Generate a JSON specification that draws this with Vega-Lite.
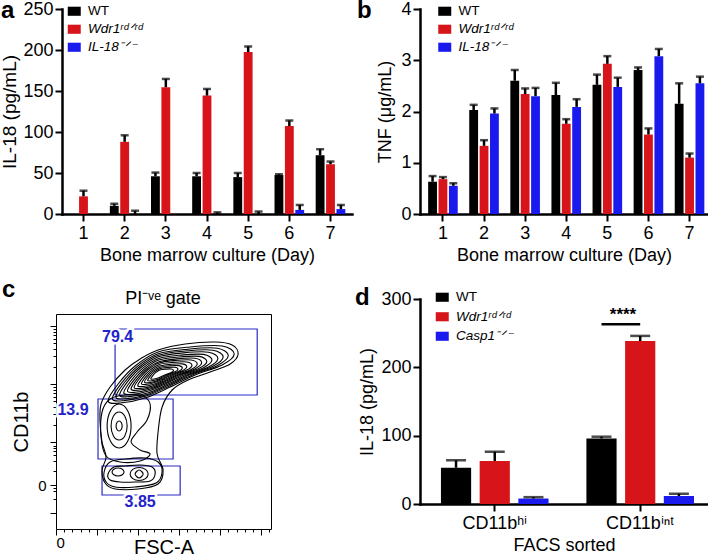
{
  "$schema": "https://vega.github.io/schema/vega-lite/v6.json",
  "background": "white",
  "padding": {"left": 0, "top": -1, "right": 0, "bottom": 0},
  "config": {
    "font": "Liberation Sans",
    "view": {"stroke": null},
    "axis": {"domainColor": "black", "domainWidth": 2.5, "domainCap": "square", "tickColor": "black", "tickWidth": 2, "tickSize": 7, "labelColor": "black", "labelFontSize": 18, "labelPadding": 2, "titleColor": "black", "titleFontSize": 18, "titleFontWeight": "normal", "grid": false},
    "legend": {"orient": "none", "symbolType": "M-1,-0.7H1V0.7H-1Z", "symbolSize": 169, "labelFontSize": 13.5, "labelColor": "black", "padding": 0, "rowPadding": 3, "labelOffset": 7, "symbolStrokeWidth": 0, "symbolOpacity": 1},
    "title": {"color": "black"}
  },
  "resolve": {"scale": {"color": "independent", "xOffset": "independent"}, "legend": {"color": "independent"}},
  "bounds": "flush",
  "spacing": 364,
  "hconcat": [
    {
      "bounds": "flush",
      "spacing": 305,
      "resolve": {"scale": {"color": "independent", "xOffset": "independent"}, "legend": {"color": "independent"}},
      "vconcat": [
        {
          "bounds": "flush",
          "spacing": 5,
          "resolve": {"scale": {"xOffset": "independent"}},
          "hconcat": [
            {"width": 1, "height": 1, "data": {"values": [{"k": 0}]}, "mark": {"type": "point", "opacity": 0}, "encoding": {}},
            {
              "width": 290, "height": 205,
              "title": {"text": "a", "anchor": "start", "frame": "group", "fontSize": 24, "fontWeight": "bold", "baseline": "alphabetic", "offset": 0, "dx": -61, "dy": 42},
              "data": {"values": [
                {"day": 1, "g": "Wdr1ʳᵈᐟʳᵈ", "v": 21.5, "hi": 28.4},
                {"day": 2, "g": "WT", "v": 10, "hi": 12.5},
                {"day": 2, "g": "Wdr1ʳᵈᐟʳᵈ", "v": 88, "hi": 96},
                {"day": 2, "g": "IL-18⁻ᐟ⁻", "v": 0, "hi": 4},
                {"day": 3, "g": "WT", "v": 46, "hi": 50.5},
                {"day": 3, "g": "Wdr1ʳᵈᐟʳᵈ", "v": 154.6, "hi": 164.7},
                {"day": 4, "g": "WT", "v": 46, "hi": 50},
                {"day": 4, "g": "Wdr1ʳᵈᐟʳᵈ", "v": 144.4, "hi": 152.5},
                {"day": 4, "g": "IL-18⁻ᐟ⁻", "v": 0, "hi": 2},
                {"day": 5, "g": "WT", "v": 45, "hi": 50},
                {"day": 5, "g": "Wdr1ʳᵈᐟʳᵈ", "v": 197.5, "hi": 204.3},
                {"day": 5, "g": "IL-18⁻ᐟ⁻", "v": 0, "hi": 3},
                {"day": 6, "g": "WT", "v": 47.5, "hi": 48.5},
                {"day": 6, "g": "Wdr1ʳᵈᐟʳᵈ", "v": 107.3, "hi": 114},
                {"day": 6, "g": "IL-18⁻ᐟ⁻", "v": 5, "hi": 11},
                {"day": 7, "g": "WT", "v": 71.6, "hi": 79},
                {"day": 7, "g": "Wdr1ʳᵈᐟʳᵈ", "v": 60.7, "hi": 64},
                {"day": 7, "g": "IL-18⁻ᐟ⁻", "v": 6, "hi": 11}
              ]},
              "encoding": {
                "x": {"field": "day", "type": "ordinal", "scale": {"type": "band", "paddingInner": 0.28, "paddingOuter": 0.162}, "axis": {"title": "Bone marrow culture (Day)", "labelAngle": 0, "labelPadding": 3, "titlePadding": 4}},
                "xOffset": {"field": "g", "type": "nominal", "sort": ["WT", "Wdr1ʳᵈᐟʳᵈ", "IL-18⁻ᐟ⁻"], "scale": {"paddingInner": 0.15}}
              },
              "layer": [
                {"mark": {"type": "bar"}, "encoding": {
                  "y": {"field": "v", "type": "quantitative", "title": "IL-18 (pg/mL)", "scale": {"domain": [0, 250], "nice": false}, "axis": {"values": [0, 50, 100, 150, 200, 250], "titlePadding": 3, "titleFontSize": 19}},
                  "color": {"field": "g", "type": "nominal", "scale": {"domain": ["WT", "Wdr1ʳᵈᐟʳᵈ", "IL-18⁻ᐟ⁻"], "range": ["#000000", "#d7141a", "#1a1aee"]}, "legend": {"title": null, "legendX": 11.5, "legendY": -4.5, "encode": {"labels": {"update": {"fontStyle": {"signal": "datum.label == 'WT' ? 'normal' : 'italic'"}}}}}}
                }},
                {"mark": {"type": "rule", "color": "black", "strokeWidth": 2.5}, "encoding": {"y": {"field": "v", "type": "quantitative", "title": "IL-18 (pg/mL)"}, "y2": {"field": "hi"}}},
                {"mark": {"type": "tick", "color": "black", "thickness": 2.5, "size": 8}, "encoding": {"y": {"field": "hi", "type": "quantitative", "title": "IL-18 (pg/mL)"}}}
              ]
            }
          ]
        },
        {
          "width": 215, "height": 215,
          "view": {"stroke": "black", "strokeWidth": 1},
          "title": {"text": "c", "anchor": "start", "frame": "group", "fontSize": 24, "fontWeight": "bold", "baseline": "alphabetic", "offset": 0, "dx": -54, "dy": 31},
          "encoding": {
            "x": {"field": "x", "type": "quantitative", "title": "FSC-A", "scale": {"domain": [0, 262], "nice": false, "zero": false},
              "axis": {"values": [0, 10, 20, 30, 40, 50, 60, 70, 80, 90, 100, 110, 120, 130, 140, 150, 160, 170, 180, 190, 200, 210, 220, 230, 240, 250, 260], "labelExpr": "datum.value == 0 ? '0' : ''", "domain": false, "tickWidth": 1, "tickSize": {"condition": {"test": "datum.value % 50 == 0", "value": 6}, "value": 3}, "labelFontSize": 15, "labelPadding": 0, "titleFontSize": 20, "titlePadding": -13}},
            "y": {"field": "y", "type": "quantitative", "title": "CD11b", "scale": {"domain": [0, 215], "nice": false, "zero": false},
              "axis": {"values": [16, 30, 38, 41, 44, 58, 68, 74, 78, 81, 83, 87, 104.5, 114.7, 121.9, 127.5, 132.1, 136, 139.4, 142.3, 145, 162.5, 172.7, 179.9, 185.5, 190.1, 194, 197.4, 200.3, 203], "labelExpr": "datum.value == 44 ? '0' : ''", "domain": false, "tickWidth": 1, "tickSize": {"condition": {"test": "indexof([16, 44, 87, 145, 203], datum.value) >= 0", "value": 6}, "value": 3}, "labelFontSize": 15, "labelPadding": 4, "titleFontSize": 20, "titlePadding": 6}}
          },
          "layer": [
            {
              "data": {"values": [
                {"gate": "79.4", "x": 72, "x2": 245.2, "y": 134, "y2": 200},
                {"gate": "13.9", "x": 51.2, "x2": 142.7, "y": 70, "y2": 130},
                {"gate": "3.85", "x": 56.1, "x2": 151.3, "y": 34, "y2": 63}
              ]},
              "mark": {"type": "rect", "fillOpacity": 0, "stroke": "#2b2bc6", "strokeWidth": 1.2},
              "encoding": {"x2": {"field": "x2"}, "y2": {"field": "y2"}}
            },
            {
              "data": {"values": [
                {"c":"m100","o":1,"x":63.5,"y":128},{"c":"m100","o":2,"x":75.7,"y":145},{"c":"m100","o":3,"x":96.4,"y":163},{"c":"m100","o":4,"x":124.5,"y":177},{"c":"m100","o":5,"x":163.5,"y":182},{"c":"m100","o":6,"x":202.5,"y":183},{"c":"m100","o":7,"x":217.2,"y":175},{"c":"m100","o":8,"x":202.5,"y":164},{"c":"m100","o":9,"x":169.6,"y":154},{"c":"m100","o":10,"x":139.1,"y":142},{"c":"m100","o":11,"x":108.6,"y":131},{"c":"m100","o":12,"x":78.1,"y":126},
                {"c":"m92","o":1,"x":68.6,"y":130.2},{"c":"m92","o":2,"x":79.8,"y":145.8},{"c":"m92","o":3,"x":98.8,"y":162.4},{"c":"m92","o":4,"x":124.7,"y":175.2},{"c":"m92","o":5,"x":160.6,"y":179.8},{"c":"m92","o":6,"x":196.5,"y":180.8},{"c":"m92","o":7,"x":210.0,"y":173.4},{"c":"m92","o":8,"x":196.5,"y":163.3},{"c":"m92","o":9,"x":166.2,"y":154.1},{"c":"m92","o":10,"x":138.1,"y":143},{"c":"m92","o":11,"x":110.1,"y":132.9},{"c":"m92","o":12,"x":82.0,"y":128.3},
                {"c":"m85","o":1,"x":73.0,"y":132},{"c":"m85","o":2,"x":83.4,"y":146.5},{"c":"m85","o":3,"x":101.0,"y":161.8},{"c":"m85","o":4,"x":124.9,"y":173.7},{"c":"m85","o":5,"x":158.0,"y":178},{"c":"m85","o":6,"x":191.2,"y":178.8},{"c":"m85","o":7,"x":203.7,"y":172},{"c":"m85","o":8,"x":191.2,"y":162.7},{"c":"m85","o":9,"x":163.2,"y":154.2},{"c":"m85","o":10,"x":137.3,"y":144},{"c":"m85","o":11,"x":111.3,"y":134.6},{"c":"m85","o":12,"x":85.4,"y":130.3},
                {"c":"m78","o":1,"x":77.4,"y":133.9},{"c":"m78","o":2,"x":87.0,"y":147.2},{"c":"m78","o":3,"x":103.1,"y":161.2},{"c":"m78","o":4,"x":125.0,"y":172.2},{"c":"m78","o":5,"x":155.4,"y":176.1},{"c":"m78","o":6,"x":185.9,"y":176.8},{"c":"m78","o":7,"x":197.3,"y":170.6},{"c":"m78","o":8,"x":185.9,"y":162},{"c":"m78","o":9,"x":160.2,"y":154.2},{"c":"m78","o":10,"x":136.4,"y":144.9},{"c":"m78","o":11,"x":112.6,"y":136.3},{"c":"m78","o":12,"x":88.8,"y":132.4},
                {"c":"m70","o":1,"x":82.5,"y":136.1},{"c":"m70","o":2,"x":91.1,"y":148},{"c":"m70","o":3,"x":105.5,"y":160.6},{"c":"m70","o":4,"x":125.2,"y":170.4},{"c":"m70","o":5,"x":152.5,"y":173.9},{"c":"m70","o":6,"x":179.8,"y":174.6},{"c":"m70","o":7,"x":190.1,"y":169},{"c":"m70","o":8,"x":179.8,"y":161.3},{"c":"m70","o":9,"x":156.8,"y":154.3},{"c":"m70","o":10,"x":135.4,"y":145.9},{"c":"m70","o":11,"x":114.1,"y":138.2},{"c":"m70","o":12,"x":92.7,"y":134.7},
                {"c":"m63","o":1,"x":87.0,"y":138},{"c":"m63","o":2,"x":94.6,"y":148.7},{"c":"m63","o":3,"x":107.7,"y":160},{"c":"m63","o":4,"x":125.4,"y":168.9},{"c":"m63","o":5,"x":150.0,"y":172},{"c":"m63","o":6,"x":174.5,"y":172.6},{"c":"m63","o":7,"x":183.8,"y":167.6},{"c":"m63","o":8,"x":174.5,"y":160.7},{"c":"m63","o":9,"x":153.8,"y":154.4},{"c":"m63","o":10,"x":134.6,"y":146.8},{"c":"m63","o":11,"x":115.4,"y":139.9},{"c":"m63","o":12,"x":96.2,"y":136.7},
                {"c":"m56","o":1,"x":91.4,"y":139.9},{"c":"m56","o":2,"x":98.2,"y":149.4},{"c":"m56","o":3,"x":109.8,"y":159.5},{"c":"m56","o":4,"x":125.6,"y":167.3},{"c":"m56","o":5,"x":147.4,"y":170.1},{"c":"m56","o":6,"x":169.2,"y":170.7},{"c":"m56","o":7,"x":177.5,"y":166.2},{"c":"m56","o":8,"x":169.2,"y":160},{"c":"m56","o":9,"x":150.8,"y":154.4},{"c":"m56","o":10,"x":133.7,"y":147.7},{"c":"m56","o":11,"x":116.7,"y":141.6},{"c":"m56","o":12,"x":99.6,"y":138.8},
                {"c":"m50","o":1,"x":95.2,"y":141.5},{"c":"m50","o":2,"x":101.3,"y":150},{"c":"m50","o":3,"x":111.6,"y":159},{"c":"m50","o":4,"x":125.7,"y":166},{"c":"m50","o":5,"x":145.2,"y":168.5},{"c":"m50","o":6,"x":164.7,"y":169},{"c":"m50","o":7,"x":172.1,"y":165},{"c":"m50","o":8,"x":164.7,"y":159.5},{"c":"m50","o":9,"x":148.3,"y":154.5},{"c":"m50","o":10,"x":133.0,"y":148.5},{"c":"m50","o":11,"x":117.7,"y":143},{"c":"m50","o":12,"x":102.5,"y":140.5},
                {"c":"m43","o":1,"x":99.6,"y":143.4},{"c":"m43","o":2,"x":104.9,"y":150.7},{"c":"m43","o":3,"x":113.8,"y":158.4},{"c":"m43","o":4,"x":125.9,"y":164.5},{"c":"m43","o":5,"x":142.6,"y":166.6},{"c":"m43","o":6,"x":159.4,"y":167},{"c":"m43","o":7,"x":165.7,"y":163.6},{"c":"m43","o":8,"x":159.4,"y":158.9},{"c":"m43","o":9,"x":145.3,"y":154.6},{"c":"m43","o":10,"x":132.1,"y":149.4},{"c":"m43","o":11,"x":119.0,"y":144.7},{"c":"m43","o":12,"x":105.9,"y":142.5},
                {"c":"m36","o":1,"x":104.1,"y":145.3},{"c":"m36","o":2,"x":108.5,"y":151.4},{"c":"m36","o":3,"x":115.9,"y":157.9},{"c":"m36","o":4,"x":126.0,"y":162.9},{"c":"m36","o":5,"x":140.1,"y":164.7},{"c":"m36","o":6,"x":154.1,"y":165.1},{"c":"m36","o":7,"x":159.4,"y":162.2},{"c":"m36","o":8,"x":154.1,"y":158.2},{"c":"m36","o":9,"x":142.3,"y":154.6},{"c":"m36","o":10,"x":131.3,"y":150.3},{"c":"m36","o":11,"x":120.3,"y":146.4},{"c":"m36","o":12,"x":109.3,"y":144.6},
                {"c":"m30","o":1,"x":107.9,"y":146.9},{"c":"m30","o":2,"x":111.5,"y":152},{"c":"m30","o":3,"x":117.7,"y":157.4},{"c":"m30","o":4,"x":126.2,"y":161.6},{"c":"m30","o":5,"x":137.9,"y":163.1},{"c":"m30","o":6,"x":149.6,"y":163.4},{"c":"m30","o":7,"x":154.0,"y":161},{"c":"m30","o":8,"x":149.6,"y":157.7},{"c":"m30","o":9,"x":139.7,"y":154.7},{"c":"m30","o":10,"x":130.6,"y":151.1},{"c":"m30","o":11,"x":121.4,"y":147.8},{"c":"m30","o":12,"x":112.3,"y":146.3},
                {"c":"m24","o":1,"x":111.7,"y":148.5},{"c":"m24","o":2,"x":114.6,"y":152.6},{"c":"m24","o":3,"x":119.6,"y":156.9},{"c":"m24","o":4,"x":126.3,"y":160.3},{"c":"m24","o":5,"x":135.7,"y":161.5},{"c":"m24","o":6,"x":145.0,"y":161.7},{"c":"m24","o":7,"x":148.6,"y":159.8},{"c":"m24","o":8,"x":145.0,"y":157.2},{"c":"m24","o":9,"x":137.1,"y":154.8},{"c":"m24","o":10,"x":129.8,"y":151.9},{"c":"m24","o":11,"x":122.5,"y":149.2},{"c":"m24","o":12,"x":115.2,"y":148},
                {"c":"m18","o":1,"x":115.5,"y":150.1},{"c":"m18","o":2,"x":117.7,"y":153.2},{"c":"m18","o":3,"x":121.4,"y":156.4},{"c":"m18","o":4,"x":126.5,"y":159},{"c":"m18","o":5,"x":133.5,"y":159.9},{"c":"m18","o":6,"x":140.5,"y":160},{"c":"m18","o":7,"x":143.2,"y":158.6},{"c":"m18","o":8,"x":140.5,"y":156.6},{"c":"m18","o":9,"x":134.6,"y":154.8},{"c":"m18","o":10,"x":129.1,"y":152.7},{"c":"m18","o":11,"x":123.6,"y":150.7},{"c":"m18","o":12,"x":118.1,"y":149.8},
                {"c":"o1","o":1,"x":54.9,"y":125},{"c":"o1","o":2,"x":65.9,"y":142},{"c":"o1","o":3,"x":84.2,"y":159},{"c":"o1","o":4,"x":102.5,"y":170},{"c":"o1","o":5,"x":124.4,"y":179},{"c":"o1","o":6,"x":157.4,"y":185},{"c":"o1","o":7,"x":194.0,"y":187},{"c":"o1","o":8,"x":214.7,"y":184},{"c":"o1","o":9,"x":222.0,"y":175},{"c":"o1","o":10,"x":212.3,"y":165},{"c":"o1","o":11,"x":187.9,"y":157},{"c":"o1","o":12,"x":161.0,"y":149},{"c":"o1","o":13,"x":141.5,"y":139},{"c":"o1","o":14,"x":129.3,"y":122},{"c":"o1","o":15,"x":124.4,"y":97},{"c":"o1","o":16,"x":123.2,"y":75},{"c":"o1","o":17,"x":130.5,"y":59},{"c":"o1","o":18,"x":124.4,"y":45},{"c":"o1","o":19,"x":100.0,"y":40},{"c":"o1","o":20,"x":72.0,"y":40},{"c":"o1","o":21,"x":59.8,"y":46},{"c":"o1","o":22,"x":56.1,"y":59},{"c":"o1","o":23,"x":61.0,"y":72},{"c":"o1","o":24,"x":56.1,"y":87},{"c":"o1","o":25,"x":53.7,"y":107},
                {"c":"l1","o":1,"x":80.6,"y":103},{"c":"l1","o":2,"x":79.5,"y":106.5},{"c":"l1","o":3,"x":76.9,"y":108},{"c":"l1","o":4,"x":74.3,"y":106.5},{"c":"l1","o":5,"x":73.2,"y":103},{"c":"l1","o":6,"x":74.3,"y":99.5},{"c":"l1","o":7,"x":76.9,"y":98},{"c":"l1","o":8,"x":79.5,"y":99.5},
                {"c":"l2","o":1,"x":86.7,"y":103},{"c":"l2","o":2,"x":83.8,"y":112.9},{"c":"l2","o":3,"x":76.9,"y":117},{"c":"l2","o":4,"x":70.0,"y":112.9},{"c":"l2","o":5,"x":67.1,"y":103},{"c":"l2","o":6,"x":70.0,"y":93.1},{"c":"l2","o":7,"x":76.9,"y":89},{"c":"l2","o":8,"x":83.8,"y":93.1},
                {"c":"l3","o":1,"x":91.5,"y":103},{"c":"l3","o":2,"x":87.2,"y":118.6},{"c":"l3","o":3,"x":76.9,"y":125},{"c":"l3","o":4,"x":66.6,"y":118.6},{"c":"l3","o":5,"x":62.3,"y":103},{"c":"l3","o":6,"x":66.6,"y":87.4},{"c":"l3","o":7,"x":76.9,"y":81},{"c":"l3","o":8,"x":87.2,"y":87.4},
                {"c":"l5","o":1,"x":56.1,"y":117},{"c":"l5","o":2,"x":65.9,"y":130},{"c":"l5","o":3,"x":84.2,"y":134},{"c":"l5","o":4,"x":104.9,"y":133},{"c":"l5","o":5,"x":114.7,"y":125},{"c":"l5","o":6,"x":111.0,"y":109},{"c":"l5","o":7,"x":98.8,"y":97},{"c":"l5","o":8,"x":91.5,"y":87},{"c":"l5","o":9,"x":102.5,"y":79},{"c":"l5","o":10,"x":114.7,"y":75},{"c":"l5","o":11,"x":102.5,"y":68},{"c":"l5","o":12,"x":78.1,"y":67},{"c":"l5","o":13,"x":61.0,"y":73},{"c":"l5","o":14,"x":54.9,"y":92},
                {"c":"b1","o":1,"x":106.2,"y":55},{"c":"b1","o":2,"x":101.3,"y":59},{"c":"b1","o":3,"x":96.4,"y":55},{"c":"b1","o":4,"x":101.3,"y":51},
                {"c":"b2","o":1,"x":112.3,"y":55},{"c":"b2","o":2,"x":109.1,"y":59.6},{"c":"b2","o":3,"x":101.3,"y":61.5},{"c":"b2","o":4,"x":93.5,"y":59.6},{"c":"b2","o":5,"x":90.3,"y":55},{"c":"b2","o":6,"x":93.5,"y":50.4},{"c":"b2","o":7,"x":101.3,"y":48.5},{"c":"b2","o":8,"x":109.1,"y":50.4},
                {"c":"b3","o":1,"x":63.4,"y":55},{"c":"b3","o":2,"x":70.8,"y":62},{"c":"b3","o":3,"x":84.2,"y":63},{"c":"b3","o":4,"x":102.5,"y":64},{"c":"b3","o":5,"x":117.1,"y":62},{"c":"b3","o":6,"x":120.8,"y":55},{"c":"b3","o":7,"x":114.7,"y":48},{"c":"b3","o":8,"x":96.4,"y":47},{"c":"b3","o":9,"x":78.1,"y":47},{"c":"b3","o":10,"x":65.9,"y":49},
                {"c":"b4","o":1,"x":82.9,"y":57},{"c":"b4","o":2,"x":80.8,"y":59.8},{"c":"b4","o":3,"x":75.6,"y":61},{"c":"b4","o":4,"x":70.4,"y":59.8},{"c":"b4","o":5,"x":68.3,"y":57},{"c":"b4","o":6,"x":70.4,"y":54.2},{"c":"b4","o":7,"x":75.6,"y":53},{"c":"b4","o":8,"x":80.8,"y":54.2},
                {"c":"b5","o":1,"x":58.6,"y":57},{"c":"b5","o":2,"x":65.9,"y":67},{"c":"b5","o":3,"x":84.2,"y":70},{"c":"b5","o":4,"x":108.6,"y":71},{"c":"b5","o":5,"x":124.4,"y":67},{"c":"b5","o":6,"x":129.3,"y":57},{"c":"b5","o":7,"x":122.0,"y":46},{"c":"b5","o":8,"x":96.4,"y":42},{"c":"b5","o":9,"x":72.0,"y":42},{"c":"b5","o":10,"x":61.0,"y":47}
              ]},
              "mark": {"type": "line", "interpolate": "cardinal-closed", "color": "black", "strokeWidth": 1.1},
              "encoding": {"detail": {"field": "c", "type": "nominal"}, "order": {"field": "o", "type": "quantitative"}}
            },
            {
              "data": {"values": [
                {"t": "79.4", "x": 75, "y": 192},
                {"t": "13.9", "x": 20.7, "y": 119},
                {"t": "3.85", "x": 102.5, "y": 27}
              ]},
              "mark": {"type": "text", "fontSize": 16, "fontWeight": "bold", "fill": "white", "stroke": "white", "strokeWidth": 5, "baseline": "middle", "align": "center"},
              "encoding": {"text": {"field": "t"}}
            },
            {
              "data": {"values": [
                {"t": "79.4", "x": 75, "y": 192},
                {"t": "13.9", "x": 20.7, "y": 119},
                {"t": "3.85", "x": 102.5, "y": 27}
              ]},
              "mark": {"type": "text", "fontSize": 16, "fontWeight": "bold", "color": "#2323c8", "baseline": "middle", "align": "center"},
              "encoding": {"text": {"field": "t"}}
            },
            {
              "data": {"values": [{"t": "PI⁻ᵛᵉ gate", "x": 130.5, "y": 230}]},
              "mark": {"type": "text", "fontSize": 18, "color": "black", "baseline": "middle", "align": "center"},
              "encoding": {"text": {"field": "t"}}
            }
          ]
        }
      ]
    },
    {
      "bounds": "flush",
      "spacing": 85,
      "resolve": {"scale": {"color": "independent", "xOffset": "independent"}, "legend": {"color": "independent"}},
      "vconcat": [
        {
          "width": 288, "height": 205,
          "title": {"text": "b", "anchor": "start", "frame": "group", "fontSize": 24, "fontWeight": "bold", "baseline": "alphabetic", "offset": 0, "dx": -63, "dy": 42},
          "data": {"values": [
            {"day": 1, "g": "WT", "v": 0.63, "hi": 0.74},
            {"day": 1, "g": "Wdr1ʳᵈᐟʳᵈ", "v": 0.68, "hi": 0.72},
            {"day": 1, "g": "IL-18⁻ᐟ⁻", "v": 0.55, "hi": 0.6},
            {"day": 2, "g": "WT", "v": 2.03, "hi": 2.13},
            {"day": 2, "g": "Wdr1ʳᵈᐟʳᵈ", "v": 1.33, "hi": 1.44},
            {"day": 2, "g": "IL-18⁻ᐟ⁻", "v": 1.96, "hi": 2.06},
            {"day": 3, "g": "WT", "v": 2.6, "hi": 2.81},
            {"day": 3, "g": "Wdr1ʳᵈᐟʳᵈ", "v": 2.34, "hi": 2.45},
            {"day": 3, "g": "IL-18⁻ᐟ⁻", "v": 2.3, "hi": 2.46},
            {"day": 4, "g": "WT", "v": 2.32, "hi": 2.56},
            {"day": 4, "g": "Wdr1ʳᵈᐟʳᵈ", "v": 1.76, "hi": 1.85},
            {"day": 4, "g": "IL-18⁻ᐟ⁻", "v": 2.09, "hi": 2.24},
            {"day": 5, "g": "WT", "v": 2.52, "hi": 2.72},
            {"day": 5, "g": "Wdr1ʳᵈᐟʳᵈ", "v": 2.93, "hi": 3.08},
            {"day": 5, "g": "IL-18⁻ᐟ⁻", "v": 2.48, "hi": 2.66},
            {"day": 6, "g": "WT", "v": 2.81, "hi": 2.86},
            {"day": 6, "g": "Wdr1ʳᵈᐟʳᵈ", "v": 1.55, "hi": 1.67},
            {"day": 6, "g": "IL-18⁻ᐟ⁻", "v": 3.08, "hi": 3.22},
            {"day": 7, "g": "WT", "v": 2.15, "hi": 2.55},
            {"day": 7, "g": "Wdr1ʳᵈᐟʳᵈ", "v": 1.1, "hi": 1.18},
            {"day": 7, "g": "IL-18⁻ᐟ⁻", "v": 2.55, "hi": 2.68}
          ]},
          "encoding": {
            "x": {"field": "day", "type": "ordinal", "scale": {"type": "band", "paddingInner": 0.28, "paddingOuter": 0.1436, "align": 0.69}, "axis": {"title": "Bone marrow culture (Day)", "labelAngle": 0, "labelPadding": 3, "titlePadding": 4}},
            "xOffset": {"field": "g", "type": "nominal", "sort": ["WT", "Wdr1ʳᵈᐟʳᵈ", "IL-18⁻ᐟ⁻"], "scale": {"paddingInner": 0.15}}
          },
          "layer": [
            {"mark": {"type": "bar"}, "encoding": {
              "y": {"field": "v", "type": "quantitative", "title": "TNF (μg/mL)", "scale": {"domain": [0, 4], "nice": false}, "axis": {"values": [0, 1, 2, 3, 4], "format": "d", "titlePadding": 6}},
              "color": {"field": "g", "type": "nominal", "scale": {"domain": ["WT", "Wdr1ʳᵈᐟʳᵈ", "IL-18⁻ᐟ⁻"], "range": ["#000000", "#d7141a", "#1a1aee"]}, "legend": {"title": null, "legendX": 18, "legendY": -4.5, "encode": {"labels": {"update": {"fontStyle": {"signal": "datum.label == 'WT' ? 'normal' : 'italic'"}}}}}}
            }},
            {"mark": {"type": "rule", "color": "black", "strokeWidth": 2.5}, "encoding": {"y": {"field": "v", "type": "quantitative", "title": "TNF (μg/mL)"}, "y2": {"field": "hi"}}},
            {"mark": {"type": "tick", "color": "black", "thickness": 2.5, "size": 8}, "encoding": {"y": {"field": "hi", "type": "quantitative", "title": "TNF (μg/mL)"}}}
          ]
        },
        {
          "width": 288, "height": 205,
          "title": {"text": "d", "anchor": "start", "frame": "group", "fontSize": 24, "fontWeight": "bold", "baseline": "alphabetic", "offset": 0, "dx": -65, "dy": 39},
          "data": {"values": [
            {"cat": "CD11bʰⁱ", "g": "WT", "v": 53, "hi": 64},
            {"cat": "CD11bʰⁱ", "g": "Wdr1ʳᵈᐟʳᵈ", "v": 63, "hi": 76.5},
            {"cat": "CD11bʰⁱ", "g": "Casp1⁻ᐟ⁻", "v": 8, "hi": 10},
            {"cat": "CD11bⁱⁿᵗ", "g": "WT", "v": 96, "hi": 98.5},
            {"cat": "CD11bⁱⁿᵗ", "g": "Wdr1ʳᵈᐟʳᵈ", "v": 238.5, "hi": 246},
            {"cat": "CD11bⁱⁿᵗ", "g": "Casp1⁻ᐟ⁻", "v": 11.7, "hi": 15}
          ]},
          "encoding": {
            "x": {"field": "cat", "type": "nominal", "sort": ["CD11bʰⁱ", "CD11bⁱⁿᵗ"], "scale": {"type": "band", "paddingInner": 0.26, "paddingOuter": 0.12, "align": 0.6}, "axis": {"title": "FACS sorted", "labelAngle": 0, "labelPadding": 3, "titlePadding": 4}}
          },
          "layer": [
            {"mark": {"type": "bar"}, "encoding": {
              "xOffset": {"field": "g", "type": "nominal", "sort": ["WT", "Wdr1ʳᵈᐟʳᵈ", "Casp1⁻ᐟ⁻"], "scale": {"range": [0, 107.6], "paddingInner": 0.22}},
              "y": {"field": "v", "type": "quantitative", "title": "IL-18 (pg/mL)", "scale": {"domain": [0, 300], "nice": false}, "axis": {"values": [0, 100, 200, 300], "titlePadding": 4}},
              "color": {"field": "g", "type": "nominal", "scale": {"domain": ["WT", "Wdr1ʳᵈᐟʳᵈ", "Casp1⁻ᐟ⁻"], "range": ["#000000", "#d7141a", "#1a1aee"]}, "legend": {"title": null, "legendX": 15.5, "legendY": -8.5, "rowPadding": 4.5, "encode": {"labels": {"update": {"fontStyle": {"signal": "datum.label == 'WT' ? 'normal' : 'italic'"}}}}}}
            }},
            {"mark": {"type": "rule", "color": "black", "strokeWidth": 2.5}, "encoding": {
              "xOffset": {"field": "g", "type": "nominal", "sort": ["WT", "Wdr1ʳᵈᐟʳᵈ", "Casp1⁻ᐟ⁻"]},
              "y": {"field": "v", "type": "quantitative", "title": "IL-18 (pg/mL)"}, "y2": {"field": "hi"}}},
            {"mark": {"type": "tick", "color": "black", "thickness": 2.5, "size": 20}, "encoding": {
              "xOffset": {"field": "g", "type": "nominal", "sort": ["WT", "Wdr1ʳᵈᐟʳᵈ", "Casp1⁻ᐟ⁻"]},
              "y": {"field": "hi", "type": "quantitative", "title": "IL-18 (pg/mL)"}}},
            {"data": {"values": [{"cat": "CD11bⁱⁿᵗ", "g": "WT"}, {"cat": "CD11bⁱⁿᵗ", "g": "Wdr1ʳᵈᐟʳᵈ"}]}, "mark": {"type": "line", "color": "black", "strokeWidth": 2.5},
              "encoding": {"xOffset": {"field": "g", "type": "nominal", "sort": ["WT", "Wdr1ʳᵈᐟʳᵈ", "Casp1⁻ᐟ⁻"]}, "y": {"datum": 263}}},
            {"data": {"values": [{"cat": "CD11bⁱⁿᵗ", "t": "****"}]}, "mark": {"type": "text", "fontSize": 17, "fontWeight": "bold", "color": "black", "baseline": "middle", "align": "center"},
              "encoding": {"x": {"field": "cat", "type": "nominal", "bandPosition": 0.34}, "y": {"datum": 277}, "text": {"field": "t"}}}
          ]
        }
      ]
    }
  ]
}
